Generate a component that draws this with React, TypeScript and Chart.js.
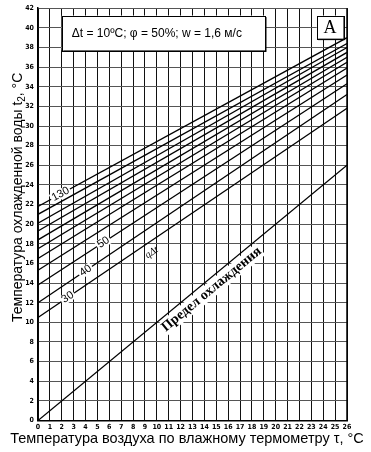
import React, { useEffect, useRef } from "react";
import { Chart, registerables } from "chart.js";

Chart.register(...registerables);

// ---- data ----
const tauEnds = [0, 26];
const qValues = [30, 40, 50, 60, 70, 80, 90, 100, 110, 120, 130];
const t2AtTauStart = [10.5, 12.0, 13.8, 15.3, 16.5, 17.5, 18.4, 19.3, 20.1, 21.0, 21.8];
const t2AtTauEnd = [31.8, 33.2, 34.3, 35.2, 35.9, 36.5, 37.0, 37.5, 38.0, 38.4, 39.0];
const coolingLimit = [0, 26];
const labeledQ = [130, 50, 40, 30];

const yTitle = ["Температура охлажденной воды t", "2", ", °C"];
const xTitle = "Температура воздуха по влажному термометру τ, °C";
const paramText = "Δt = 10ºC; φ = 50%; w = 1,6 м/с";
const panelText = "A";
const limitText = "Предел охлаждения";
const familyText = "qΔt";

// label anchors (tau value along each labeled line)
const labelAnchor: Record<number, number> = { 130: 1.9, 50: 5.5, 40: 4.0, 30: 2.5 };

const SANS = "'Liberation Sans', Arial, sans-serif";
const SERIF = "'Liberation Serif', 'Times New Roman', serif";

function lineValue(i: number, tau: number) {
  const a = t2AtTauStart[i];
  const b = t2AtTauEnd[i];
  return a + ((b - a) * (tau - tauEnds[0])) / (tauEnds[1] - tauEnds[0]);
}

const annotPlugin = {
  id: "annot",
  afterDatasetsDraw(chart: any) {
    const { ctx, scales, chartArea } = chart;
    const xs = scales.x;
    const ys = scales.y;
    const px = (v: number) => xs.getPixelForValue(v);
    const py = (v: number) => ys.getPixelForValue(v);

    // right frame edge
    ctx.save();
    ctx.strokeStyle = "#000";
    ctx.lineWidth = 1.5;
    ctx.beginPath();
    ctx.moveTo(chartArea.right, chartArea.top);
    ctx.lineTo(chartArea.right, chartArea.bottom);
    ctx.stroke();
    ctx.restore();

    // labels on family lines
    labeledQ.forEach((q) => {
      const i = qValues.indexOf(q);
      const tau = labelAnchor[q];
      const ang = Math.atan2(
        py(t2AtTauEnd[i]) - py(t2AtTauStart[i]),
        px(tauEnds[1]) - px(tauEnds[0])
      );
      ctx.save();
      ctx.translate(px(tau), py(lineValue(i, tau)));
      ctx.rotate(ang);
      ctx.font = `11px ${SANS}`;
      const w = ctx.measureText(String(q)).width;
      ctx.fillStyle = "#fff";
      ctx.fillRect(-w / 2 - 1.5, -5, w + 3, 10);
      ctx.fillStyle = "#000";
      ctx.textAlign = "center";
      ctx.textBaseline = "middle";
      ctx.fillText(String(q), 0, 0);
      ctx.restore();
    });

    // family label
    {
      const i = qValues.indexOf(30);
      const tau = 9.1;
      const ang = Math.atan2(
        py(t2AtTauEnd[i]) - py(t2AtTauStart[i]),
        px(tauEnds[1]) - px(tauEnds[0])
      );
      ctx.save();
      ctx.translate(px(tau), py(lineValue(i, tau)));
      ctx.rotate(ang);
      ctx.font = `italic 10px ${SERIF}`;
      ctx.fillStyle = "#000";
      ctx.textAlign = "center";
      ctx.textBaseline = "middle";
      ctx.fillText(familyText, 0, 10);
      ctx.restore();
    }

    // cooling limit label
    {
      const tau = 14.1;
      const ang = Math.atan2(
        py(coolingLimit[1]) - py(coolingLimit[0]),
        px(tauEnds[1]) - px(tauEnds[0])
      );
      ctx.save();
      ctx.translate(px(tau), py(tau));
      ctx.rotate(ang);
      ctx.font = `bold 14px ${SERIF}`;
      const w = ctx.measureText(limitText).width;
      ctx.fillStyle = "#fff";
      ctx.fillRect(-w / 2 - 1, 2, w + 2, 15);
      ctx.fillStyle = "#000";
      ctx.textAlign = "center";
      ctx.textBaseline = "middle";
      ctx.fillText(limitText, 0, 9.5);
      ctx.restore();
    }

    // boxes
    const box = (l: number, t: number, r: number, b: number) => {
      const x0 = px(l), x1 = px(r), y0 = py(t), y1 = py(b);
      ctx.save();
      ctx.fillStyle = "#000";
      ctx.fillRect(x0 + 1.5, y0 + 1.5, x1 - x0, y1 - y0);
      ctx.fillStyle = "#fff";
      ctx.fillRect(x0, y0, x1 - x0, y1 - y0);
      ctx.strokeStyle = "#000";
      ctx.lineWidth = 1;
      ctx.strokeRect(Math.round(x0) + 0.5, Math.round(y0) + 0.5, Math.round(x1 - x0), Math.round(y1 - y0));
      ctx.restore();
      return { x0, x1, y0, y1 };
    };
    {
      const b = box(2.0, 41.25, 19.1, 37.7);
      ctx.save();
      ctx.font = `12px ${SANS}`;
      ctx.fillStyle = "#000";
      ctx.textAlign = "left";
      ctx.textBaseline = "middle";
      ctx.fillText(paramText, b.x0 + 10, (b.y0 + b.y1) / 2 + 1);
      ctx.restore();
    }
    {
      const b = box(23.45, 41.25, 25.7, 38.9);
      ctx.save();
      ctx.font = `18px ${SERIF}`;
      ctx.fillStyle = "#000";
      ctx.textAlign = "center";
      ctx.textBaseline = "middle";
      ctx.fillText(panelText, (b.x0 + b.x1) / 2, (b.y0 + b.y1) / 2 + 1);
      ctx.restore();
    }
  },
  afterDraw(chart: any) {
    const { ctx, chartArea } = chart;
    // y title
    ctx.save();
    ctx.translate(18, (chartArea.top + chartArea.bottom) / 2 - 17);
    ctx.rotate(-Math.PI / 2);
    ctx.fillStyle = "#000";
    ctx.textBaseline = "middle";
    ctx.textAlign = "left";
    const main = `14px ${SANS}`;
    const sub = `10px ${SANS}`;
    ctx.font = main;
    const w0 = ctx.measureText(yTitle[0]).width;
    const w2 = ctx.measureText(yTitle[2]).width;
    ctx.font = sub;
    const w1 = ctx.measureText(yTitle[1]).width;
    const total = w0 + w1 + w2;
    let cx = -total / 2;
    ctx.font = main;
    ctx.fillText(yTitle[0], cx, 0);
    cx += w0;
    ctx.font = sub;
    ctx.fillText(yTitle[1], cx, 4);
    cx += w1;
    ctx.font = main;
    ctx.fillText(yTitle[2], cx, 0);
    ctx.restore();

    // x title
    ctx.save();
    ctx.fillStyle = "#000";
    ctx.font = `14.5px ${SANS}`;
    ctx.textAlign = "center";
    ctx.textBaseline = "middle";
    ctx.fillText(xTitle, 187, 439);
    ctx.restore();
  },
};

export default function App() {
  const ref = useRef<HTMLCanvasElement | null>(null);

  useEffect(() => {
    document.body.style.margin = "0";
    const canvas = ref.current;
    if (!canvas) return;

    const datasets: any[] = qValues.map((q, i) => ({
      label: String(q),
      data: tauEnds.map((t, k) => ({ x: t, y: k === 0 ? t2AtTauStart[i] : t2AtTauEnd[i] })),
      borderColor: "#000",
      borderWidth: 1.3,
      pointRadius: 0,
      fill: false,
    }));
    datasets.push({
      label: limitText,
      data: tauEnds.map((t, k) => ({ x: t, y: coolingLimit[k] })),
      borderColor: "#000",
      borderWidth: 1.3,
      pointRadius: 0,
      fill: false,
    });

    const tickFont = { family: "'Liberation Sans Narrow', 'DejaVu Sans Condensed', " + SERIF, size: 7, weight: "bold" as const };

    const chart = new Chart(canvas, {
      type: "line",
      data: { datasets },
      plugins: [annotPlugin],
      options: {
        animation: false,
        responsive: false,
        events: [],
        layout: { padding: { top: 7.5, right: 24, left: 0, bottom: 0 } },
        plugins: { legend: { display: false }, tooltip: { enabled: false }, title: { display: false } },
        scales: {
          x: {
            type: "linear",
            min: 0,
            max: 26,
            afterFit: (s: any) => {
              s.height = 31.5;
            },
            ticks: {
              stepSize: 1,
              autoSkip: false,
              maxRotation: 0,
              minRotation: 0,
              padding: 2,
              color: "#000",
              font: tickFont,
            },
            grid: { color: "#111", lineWidth: 1, drawTicks: false },
            border: { display: true, color: "#000", width: 1.5 },
          },
          y: {
            type: "linear",
            min: 0,
            max: 42,
            afterFit: (s: any) => {
              s.width = 38;
            },
            ticks: {
              stepSize: 2,
              autoSkip: false,
              padding: 4,
              color: "#000",
              font: tickFont,
            },
            grid: { color: "#555", lineWidth: 1, drawTicks: false },
            border: { display: true, color: "#000", width: 1.5 },
          },
        },
      },
    });

    return () => chart.destroy();
  }, []);

  return (
    <div style={{ position: "absolute", left: 0, top: 0, width: 371, height: 452, background: "#fff" }}>
      <canvas ref={ref} width={371} height={452} style={{ display: "block" }} />
    </div>
  );
}
